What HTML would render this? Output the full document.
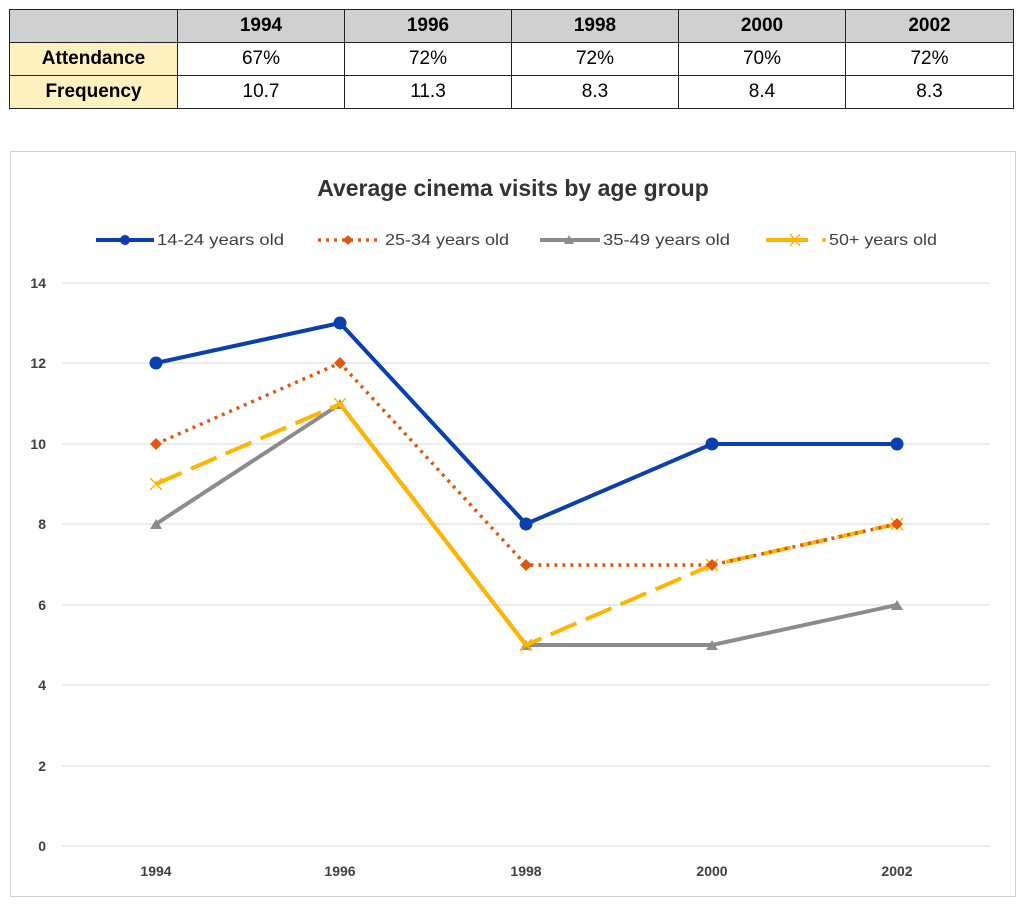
<!DOCTYPE html>
<html><head><style>
body{margin:0;width:1026px;height:907px;background:#fff;font-family:"Liberation Sans",sans-serif;overflow:hidden;position:relative}
table{position:absolute;left:9px;top:9px;border-collapse:collapse;font-family:"Liberation Sans",sans-serif;font-size:19px;table-layout:fixed;width:1004px}
td{border:1.5px solid #222;height:32px;text-align:center;padding:0}
tr:first-child td{background:#d0d0d0;font-weight:bold}
td.h{background:#fdf1c0;font-weight:bold}
tr:first-child td.h{background:#d0d0d0}
</style></head><body>
<table>
<colgroup><col style="width:168px"><col style="width:167px"><col style="width:167px"><col style="width:167px"><col style="width:167px"><col style="width:168px"></colgroup>
<tr><td class="h"></td><td>1994</td><td>1996</td><td>1998</td><td>2000</td><td>2002</td></tr>
<tr><td class="h">Attendance</td><td>67%</td><td>72%</td><td>72%</td><td>70%</td><td>72%</td></tr>
<tr><td class="h">Frequency</td><td>10.7</td><td>11.3</td><td>8.3</td><td>8.4</td><td>8.3</td></tr>
</table>
<svg width="1026" height="907" style="position:absolute;left:0;top:0" font-family="Liberation Sans, sans-serif">
<rect x="10.5" y="151.5" width="1005" height="745" fill="none" stroke="#d0d0d0"/>
<text x="513" y="196" font-size="23" font-weight="bold" text-anchor="middle" fill="#333">Average cinema visits by age group</text>
<g stroke="#d9d9d9" stroke-width="1">
<line x1="62" x2="990" y1="283" y2="283"/><line x1="62" x2="990" y1="363" y2="363"/><line x1="62" x2="990" y1="444" y2="444"/><line x1="62" x2="990" y1="524" y2="524"/><line x1="62" x2="990" y1="605" y2="605"/><line x1="62" x2="990" y1="685" y2="685"/><line x1="62" x2="990" y1="766" y2="766"/><line x1="62" x2="990" y1="846" y2="846"/>
</g>
<g font-size="14" font-weight="bold" fill="#404040" text-anchor="end">
<text x="46" y="288">14</text><text x="46" y="368">12</text><text x="46" y="449">10</text><text x="46" y="529">8</text><text x="46" y="610">6</text><text x="46" y="690">4</text><text x="46" y="771">2</text><text x="46" y="851">0</text>
</g>
<g font-size="14" font-weight="bold" fill="#404040" text-anchor="middle">
<text x="156" y="876">1994</text><text x="340" y="876">1996</text><text x="526" y="876">1998</text><text x="712" y="876">2000</text><text x="897" y="876">2002</text>
</g>
<polyline points="156,524 340,404 526,645 712,645 897,605" fill="none" stroke="#8c8c8c" stroke-width="4"/>
<g fill="#8c8c8c"><path d="M150,529h12l-6,-10z"/><path d="M334,409h12l-6,-10z"/><path d="M520,650h12l-6,-10z"/><path d="M706,650h12l-6,-10z"/><path d="M891,610h12l-6,-10z"/></g>
<polyline points="156,484 340,404 526,645 712,565 897,524" fill="none" stroke="#ffb400" stroke-width="4" stroke-dasharray="28,10"/>
<polyline points="340,404 526,645" fill="none" stroke="#ffb400" stroke-width="4"/>
<g stroke="#ffb400" stroke-width="1.5"><path d="M150,478l12,12M162,478l-12,12"/><path d="M334,398l12,12M346,398l-12,12"/><path d="M520,639l12,12M532,639l-12,12"/><path d="M706,559l12,12M718,559l-12,12"/><path d="M891,518l12,12M903,518l-12,12"/></g>
<polyline points="156,444 340,363 526,565 712,565 897,524" fill="none" stroke="#e2570f" stroke-width="3.5" stroke-dasharray="3,5"/>
<g fill="#e2570f"><path d="M156,438l6,6l-6,6l-6,-6z"/><path d="M340,357l6,6l-6,6l-6,-6z"/><path d="M526,559l6,6l-6,6l-6,-6z"/><path d="M712,559l6,6l-6,6l-6,-6z"/><path d="M897,518l6,6l-6,6l-6,-6z"/></g>
<polyline points="156,363 340,323 526,524 712,444 897,444" fill="none" stroke="#0a3fb0" stroke-width="4"/>
<g fill="#0a3fb0"><circle cx="156" cy="363" r="6.5"/><circle cx="340" cy="323" r="6.5"/><circle cx="526" cy="524" r="6.5"/><circle cx="712" cy="444" r="6.5"/><circle cx="897" cy="444" r="6.5"/></g>
<g font-size="16" fill="#404040">
<line x1="96" x2="154" y1="240" y2="240" stroke="#0a3fb0" stroke-width="4"/><circle cx="125" cy="240" r="5" fill="#0a3fb0"/><text x="157" y="245" textLength="127" lengthAdjust="spacingAndGlyphs">14-24 years old</text>
<line x1="318" x2="378" y1="240" y2="240" stroke="#e2570f" stroke-width="3.5" stroke-dasharray="3,5"/><path d="M348,235l5,5l-5,5l-5,-5z" fill="#e2570f"/><text x="385" y="245" textLength="124" lengthAdjust="spacingAndGlyphs">25-34 years old</text>
<line x1="540" x2="600" y1="240" y2="240" stroke="#8c8c8c" stroke-width="4"/><path d="M564,244h10l-5,-9z" fill="#8c8c8c"/><text x="603" y="245" textLength="127" lengthAdjust="spacingAndGlyphs">35-49 years old</text>
<line x1="766" x2="808" y1="240" y2="240" stroke="#ffb400" stroke-width="4"/><circle cx="824" cy="240" r="2" fill="#ffb400"/><path d="M790,234l10,12M800,234l-10,12" stroke="#ffb400" stroke-width="1.5"/><text x="829" y="245" textLength="108" lengthAdjust="spacingAndGlyphs">50+ years old</text>
</g>
</svg>
</body></html>
